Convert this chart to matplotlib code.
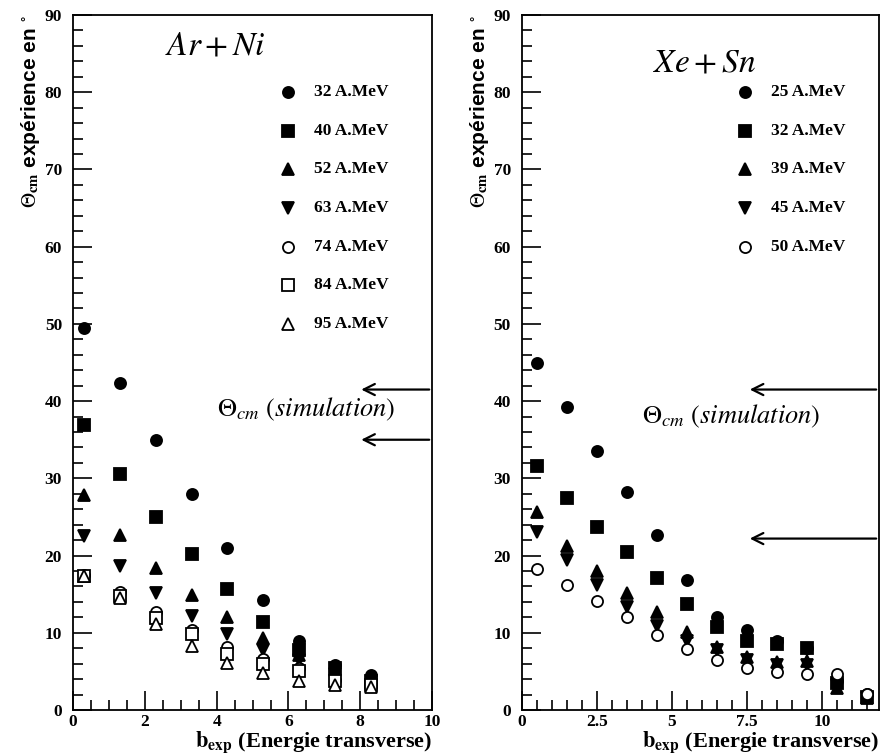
import matplotlib
matplotlib.use('Agg')
import matplotlib.pyplot as plt
from matplotlib.ticker import MultipleLocator, FormatStrFormatter

plt.rcParams['font.family'] = ['Liberation Serif', 'DejaVu Serif']
plt.rcParams['mathtext.fontset'] = 'stix'

# %% data : Ar+Ni
b_arni = [0.3, 1.3, 2.3, 3.3, 4.3, 5.3, 6.3, 7.3, 8.3]
arni_labels = ['32 A.MeV', '40 A.MeV', '52 A.MeV', '63 A.MeV', '74 A.MeV', '84 A.MeV', '95 A.MeV']
arni_32 = [49.5, 42.3, 35.0, 28.0, 21.0, 14.2, 9.0, 5.8, 4.5]
arni_40 = [36.9, 30.5, 25.0, 20.2, 15.7, 11.4, 7.8, 5.4, 3.7]
arni_52 = [27.8, 22.7, 18.4, 14.9, 12.0, 9.3, 7.1, 5.2, 3.5]
arni_63 = [22.5, 18.6, 15.1, 12.2, 9.8, 7.8, 6.5, 4.7, 3.2]
arni_74 = [17.5, 15.3, 12.7, 10.3, 8.2, 6.6, 5.5, 3.9, 3.2]
arni_84 = [17.4, 14.8, 11.9, 9.9, 7.3, 6.0, 5.0, 3.7, 3.2]
arni_95 = [17.3, 14.5, 11.2, 8.3, 6.1, 4.8, 3.8, 3.2, 3.0]
arni_sim = [41.5, 35.0]

# %% data : Xe+Sn
b_xesn = [0.5, 1.5, 2.5, 3.5, 4.5, 5.5, 6.5, 7.5, 8.5, 9.5, 10.5, 11.5]
xesn_labels = ['25 A.MeV', '32 A.MeV', '39 A.MeV', '45 A.MeV', '50 A.MeV']
xesn_25 = [45.0, 39.2, 33.6, 28.2, 22.6, 16.8, 12.1, 10.3, 8.9, 8.0, 3.7, 2.1]
xesn_32 = [31.6, 27.4, 23.7, 20.4, 17.1, 13.7, 10.7, 8.9, 8.6, 8.0, 3.5, 1.7]
xesn_39 = [25.6, 21.3, 18.0, 15.2, 12.7, 10.1, 8.2, 6.8, 6.2, 6.4, 2.9, 1.5]
xesn_45 = [23.0, 19.4, 16.2, 13.4, 10.9, 8.9, 7.8, 6.5, 5.8, 5.8, 3.2, 1.5]
xesn_50 = [18.2, 16.2, 14.1, 12.0, 9.7, 7.9, 6.5, 5.5, 4.9, 4.7, 4.7, 2.1]
xesn_sim = [41.5, 22.2]

markers = [('o', 'k'), ('s', 'k'), ('^', 'k'), ('v', 'k'), ('o', 'w'), ('s', 'w'), ('^', 'w')]

fig = plt.figure(figsize=(8.81, 7.55), dpi=100)
ax1 = fig.add_axes([0.083, 0.0596, 0.4074, 0.9205])
ax2 = fig.add_axes([0.5925, 0.0596, 0.4052, 0.9205])


def draw(ax, b, series, labels, xmax, xmajor, leg_xm, leg_xt, title, title_x, title_y,
         sim, arrow_x0, arrow_x1, sim_x, sim_y):
    for i, (y, lab) in enumerate(zip(series, labels)):
        m, fc = markers[i]
        ax.plot(b, y, ls='none', marker=m, ms=8, mfc=fc, mec='k', mew=1.3)
        # hand made legend, one row every 5 degrees
        ly = 80 - 5 * i
        ax.plot([leg_xm], [ly], ls='none', marker=m, ms=8, mfc=fc, mec='k', mew=1.3)
        ax.text(leg_xt, ly, lab, fontsize=12.5, fontweight='bold', va='center')
    for s in sim:
        ax.annotate('', xy=(arrow_x0, s), xytext=(arrow_x1, s),
                    arrowprops=dict(arrowstyle='->', lw=1.6, color='k', mutation_scale=20))
    ax.text(sim_x, sim_y, r'$\Theta_{cm}$ $\mathit{(simulation)}$', fontsize=19, va='center')
    ax.text(title_x, title_y, title, fontsize=24, va='center', ha='center')
    ax.set_xlim(0, xmax)
    ax.set_ylim(0, 90)
    ax.xaxis.set_major_locator(MultipleLocator(xmajor))
    ax.xaxis.set_major_formatter(FormatStrFormatter('%g'))
    ax.xaxis.set_minor_locator(MultipleLocator(0.5))
    ax.yaxis.set_major_locator(MultipleLocator(10))
    ax.yaxis.set_minor_locator(MultipleLocator(2))
    ax.tick_params(which='both', direction='in', top=False, right=False, width=1.2)
    ax.tick_params(which='major', length=14, labelsize=12.5)
    ax.tick_params(axis='y', pad=8)
    ax.tick_params(axis='x', pad=3)
    ax.tick_params(which='minor', length=7)
    for t in ax.get_xticklabels() + ax.get_yticklabels():
        t.set_fontweight('bold')
    for sp in ax.spines.values():
        sp.set_linewidth(1.3)
    ax.set_xlabel(r'$\mathbf{b_{exp}}$ (Energie transverse)', fontsize=16, fontweight='bold',
                  ha='right', va='top')
    ax.xaxis.set_label_coords(1.0, -0.027)
    ax.set_ylabel(r'$\Theta_{\mathbf{cm}}$ expérience en $^{\circ}$', fontsize=15,
                  fontweight='bold', family=['Liberation Sans Narrow', 'Liberation Sans'],
                  loc='top', labelpad=2)


draw(ax1, b_arni, [arni_32, arni_40, arni_52, arni_63, arni_74, arni_84, arni_95], arni_labels,
     10, 2, 6.0, 6.7, r'$Ar+Ni$', 3.95, 85.9, arni_sim, 7.95, 10, 4.0, 38.9)
draw(ax2, b_xesn, [xesn_25, xesn_32, xesn_39, xesn_45, xesn_50], xesn_labels,
     11.9, 2.5, 7.45, 8.3, r'$Xe+Sn$', 6.1, 83.8, xesn_sim, 7.5, 11.9, 4.0, 38.0)

fig.savefig('out.png', dpi=100)
